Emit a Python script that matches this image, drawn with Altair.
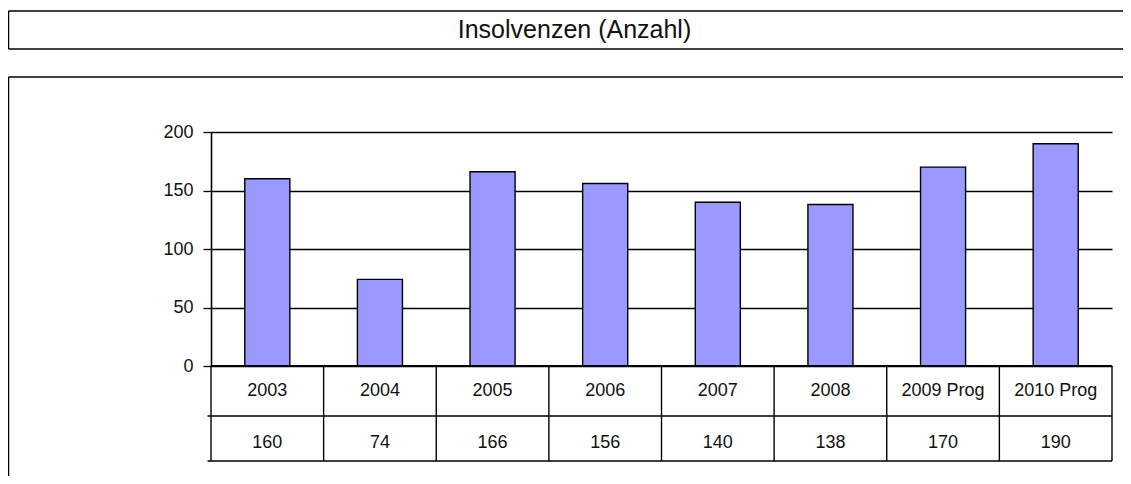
import altair as alt
import pandas as pd

# Data
categories = ["2003", "2004", "2005", "2006", "2007", "2008", "2009 Prog", "2010 Prog"]
values = [160, 74, 166, 156, 140, 138, 170, 190]
y_ticks = [0, 50, 100, 150, 200]
title_text = "Insolvenzen (Anzahl)"

df = pd.DataFrame({"cat": categories, "val": values})
one = pd.DataFrame({"a": [0]})

W, H = 901, 234
FONT = "Liberation Sans"
INK = "#000000"

xscale = alt.Scale(domain=categories, paddingInner=0, paddingOuter=0)
yscale = alt.Scale(domain=[0, 200], nice=False)

base = alt.Chart(df)

bars = base.mark_bar(
    width=alt.RelativeBandSize(0.4), fill="#9999FF", stroke=INK, strokeWidth=1.4
).encode(
    x=alt.X("cat:N", scale=xscale, axis=None, sort=categories),
    y=alt.Y(
        "val:Q",
        scale=yscale,
        axis=alt.Axis(
            values=y_ticks,
            title=None,
            grid=True,
            gridColor=INK,
            gridWidth=1.3,
            gridOpacity=1,
            domain=True,
            domainColor=INK,
            domainWidth=1.6,
            ticks=True,
            tickSize=8,
            tickColor=INK,
            tickWidth=1.3,
            labelFont=FONT,
            labelFontSize=18,
            labelColor="#111111",
            labelPadding=10,
        ),
    ),
)

zero = alt.Chart(one).mark_rule(color=INK, strokeWidth=2).encode(
    x=alt.value(0), x2=alt.value(W), y=alt.value(H)
)

vlines = base.mark_rule(color=INK, strokeWidth=1.4).encode(
    x=alt.X("cat:N", scale=xscale, axis=None, sort=categories, bandPosition=0),
    y=alt.value(H),
    y2=alt.value(H + 95),
)
vright = alt.Chart(one).mark_rule(color=INK, strokeWidth=1.4).encode(
    x=alt.value(W), y=alt.value(H), y2=alt.value(H + 95)
)
hline1 = alt.Chart(one).mark_rule(color=INK, strokeWidth=1.4).encode(
    x=alt.value(-3.5), x2=alt.value(W), y=alt.value(H + 50)
)
hline2 = alt.Chart(one).mark_rule(color=INK, strokeWidth=1.4).encode(
    x=alt.value(-3.5), x2=alt.value(W), y=alt.value(H + 95)
)

cat_text = base.mark_text(font=FONT, fontSize=18, color="#111111", baseline="middle").encode(
    x=alt.X("cat:N", scale=xscale, axis=None, sort=categories),
    y=alt.value(H + 25),
    text="cat:N",
)
val_text = base.mark_text(font=FONT, fontSize=18, color="#111111", baseline="middle").encode(
    x=alt.X("cat:N", scale=xscale, axis=None, sort=categories),
    y=alt.value(H + 77),
    text="val:Q",
)

# title box and outer frame as open-ended lines (they run off the right/bottom edges)
LEFT, RIGHT = -202.5, 960
def hrule(y):
    return alt.Chart(one).mark_rule(color=INK, strokeWidth=1.5).encode(
        x=alt.value(LEFT), x2=alt.value(RIGHT), y=alt.value(y)
    )
def vrule(y1, y2):
    return alt.Chart(one).mark_rule(color=INK, strokeWidth=1.5).encode(
        x=alt.value(LEFT), y=alt.value(y1), y2=alt.value(y2)
    )

title_top = hrule(-121)
title_bottom = hrule(-83)
title_left = vrule(-121, -83)
frame_top = hrule(-55)
frame_left = vrule(-55, 440)

title = alt.Chart(one).mark_text(font=FONT, fontSize=25, color="#111111", baseline="middle", align="center").encode(
    x=alt.value(363.5), y=alt.value(-102), text=alt.value(title_text)
)

chart = alt.layer(
    title_top, title_bottom, title_left, frame_top, frame_left, title,
    bars, zero, vlines, vright, hline1, hline2, cat_text, val_text
).properties(
    width=W,
    height=H,
    padding={"left": 203, "top": 124, "right": 11, "bottom": 110},
    autosize=alt.AutoSizeParams(type="none"),
).configure_view(stroke=None)

chart.save("out.html", embed_options={"renderer": "svg", "actions": False})
